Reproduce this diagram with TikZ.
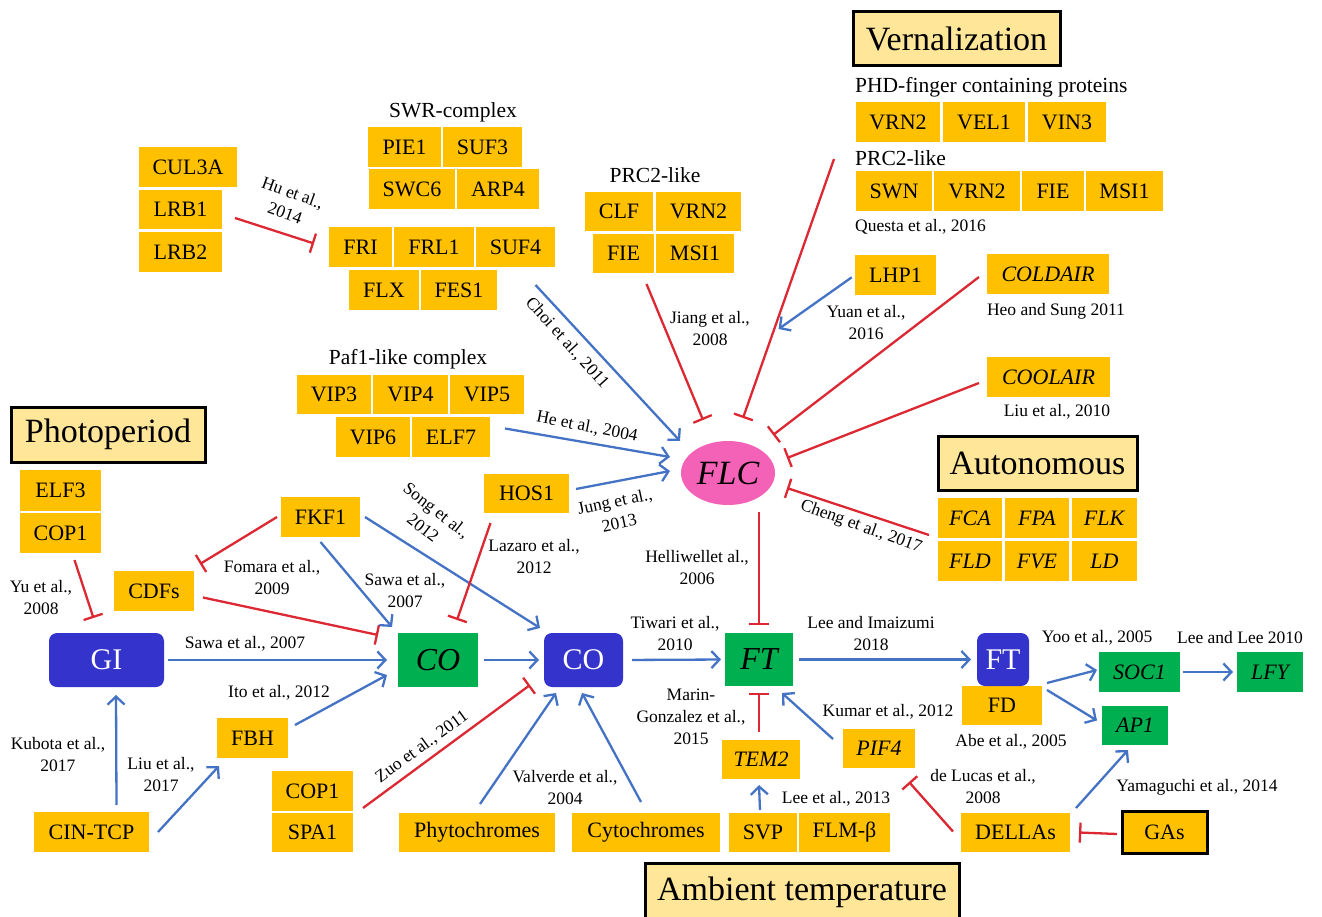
\documentclass[tikz,border=0pt]{standalone}
\usepackage{fontspec}
\setmainfont{Liberation Serif}
\usetikzlibrary{arrows.meta,calc,shapes.geometric}
\definecolor{org}{HTML}{FFC000}
\definecolor{grn}{HTML}{00B050}
\definecolor{dblu}{HTML}{3434CC}
\definecolor{ablu}{HTML}{4472C4}
\definecolor{ired}{HTML}{DC2832}
\definecolor{pnk}{HTML}{F462B8}
\definecolor{ttl}{HTML}{FFE699}
\tikzset{
 box/.style={inner sep=0pt, outer sep=0pt, text=black, font=\fontsize{22}{24}\selectfont},
 ob/.style={box, fill=org},
 gb/.style={box, fill=grn, font=\fontsize{22}{24}\selectfont\itshape},
 gbig/.style={box, fill=grn, font=\fontsize{32}{34}\selectfont\itshape},
 bb/.style={box, fill=dblu, rounded corners=8pt, text=white, font=\fontsize{30}{32}\selectfont},
 tb/.style={box, fill=ttl, draw=black, line width=3pt, font=\fontsize{34}{36}\selectfont},
 gab/.style={box, fill=org, draw=black, line width=3pt},
 lab/.style={inner sep=0pt, align=center, font=\fontsize{17.5}{22}\selectfont},
 grp/.style={inner sep=0pt, font=\fontsize{21.5}{24}\selectfont},
 act/.style={draw=ablu, line width=2.3pt, -{Straight Barb[length=8pt,width=17pt]}},
 inh/.style={draw=ired, line width=2.3pt, -{Bar[width=20pt]}},
}
\newcommand\BX[7][ob]{\node[#1, minimum width={#5-#3}, minimum height={#6-#4}] (#2) at ({(#3+#5)/2},{(#4+#6)/2}) {#7};}
\begin{document}
\begin{tikzpicture}[x=1pt,y=-1pt]
\useasboundingbox[fill=white] (0,0) rectangle (1322,917);

% ---------- top-left groups
\BX{CUL3A}{139}{147}{237}{187}{CUL3A}
\BX{LRB1}{139}{190}{222}{229}{LRB1}
\BX{LRB2}{139}{232}{222}{272}{LRB2}
\node[grp] (swrt) at (453,112) {SWR-complex};
\BX{PIE1}{368}{127}{441}{167}{PIE1}
\BX{SUF3}{443}{127}{522}{167}{SUF3}
\BX{SWC6}{369}{169}{455}{209}{SWC6}
\BX{ARP4}{457}{169}{539}{209}{ARP4}
\BX{FRI}{329}{227}{392}{267}{FRI}
\BX{FRL1}{394}{227}{474}{267}{FRL1}
\BX{SUF4}{476}{227}{555}{267}{SUF4}
\BX{FLX}{349}{270}{419}{310}{FLX}
\BX{FES1}{421}{270}{497}{310}{FES1}
\node[grp] (prct) at (655,175) {PRC2-like};
\BX{CLF}{585}{192}{653}{231}{CLF}
\BX{VRN2a}{656}{192}{741}{231}{VRN2}
\BX{FIEa}{593}{234}{654}{273}{FIE}
\BX{MSI1a}{656}{234}{734}{273}{MSI1}

% ---------- vernalization
\BX[tb]{vern}{853}{12}{1060}{66}{Vernalization}
\node[grp, anchor=west] (phdt) at (855,87) {PHD-finger containing proteins};
\BX{VRN2b}{856}{102}{940}{142}{VRN2}
\BX{VEL1}{943}{102}{1025}{142}{VEL1}
\BX{VIN3}{1028}{102}{1106}{142}{VIN3}
\node[grp, anchor=west] (prc2t) at (855,158) {PRC2-like};
\BX{SWN}{856}{171}{932}{211}{SWN}
\BX{VRN2c}{934}{171}{1020}{211}{VRN2}
\BX{FIEc}{1022}{171}{1084}{211}{FIE}
\BX{MSI1c}{1086}{171}{1163}{211}{MSI1}
\node[lab, anchor=west] (questa) at (855,227) {Questa et al., 2016};
\BX{LHP1}{855}{255}{936}{295}{LHP1}
\BX{COLDAIR}{987}{254}{1109}{294}{\textit{COLDAIR}}
\BX{COOLAIR}{987}{357}{1110}{397}{\textit{COOLAIR}}
\node[lab] (heo) at (1056,311) {Heo and Sung 2011};
\node[lab] (liu10) at (1057,412) {Liu et al., 2010};

% ---------- autonomous
\BX[tb]{auto}{938}{436}{1137}{490}{Autonomous}
\BX{FCA}{938}{498}{1002}{538}{\textit{FCA}}
\BX{FPA}{1005}{498}{1069}{538}{\textit{FPA}}
\BX{FLK}{1072}{498}{1137}{538}{\textit{FLK}}
\BX{FLD}{938}{541}{1002}{581}{\textit{FLD}}
\BX{FVE}{1005}{541}{1069}{581}{\textit{FVE}}
\BX{LD}{1072}{541}{1137}{581}{\textit{LD}}

% ---------- Paf1
\node[grp] (paft) at (408,359) {Paf1-like complex};
\BX{VIP3}{297}{375}{371}{414}{VIP3}
\BX{VIP4}{373}{375}{448}{414}{VIP4}
\BX{VIP5}{450}{375}{524}{414}{VIP5}
\BX{VIP6}{336}{417}{410}{457}{VIP6}
\BX{ELF7}{412}{417}{490}{457}{ELF7}
\BX{HOS1}{484}{474}{569}{513}{HOS1}

% ---------- FLC
\node[ellipse, fill=pnk, minimum width=94, minimum height=64, inner sep=0pt,
      font=\fontsize{34}{36}\selectfont\itshape] (FLC) at (728,473) {FLC};

% ---------- photoperiod
\BX[tb]{photo}{11}{407}{205}{462}{Photoperiod}
\BX{ELF3}{20}{470}{101}{511}{ELF3}
\BX{COP1a}{20}{513}{101}{553}{COP1}
\BX[bb]{GI}{49}{633}{164}{687}{GI}
\BX{CDFs}{114}{571}{194}{611}{CDFs}
\BX{FKF1}{281}{497}{360}{537}{FKF1}
\BX[gbig]{COg}{398}{633}{478}{687}{CO}
\BX[bb]{COb}{544}{633}{623}{687}{CO}
\BX[gbig]{FTg}{725}{633}{793}{686}{FT}
\BX{FD}{962}{686}{1042}{725}{FD}
\BX[bb]{FTb}{977}{633}{1029}{686}{FT}
\BX[gb]{SOC1}{1099}{652}{1180}{692}{SOC1}
\BX[gb]{LFY}{1237}{652}{1303}{692}{LFY}
\BX[gb]{AP1}{1102}{706}{1168}{745}{AP1}

% ---------- bottom
\BX{CIN}{34}{812}{149}{852}{CIN-TCP}
\BX{FBH}{217}{718}{288}{758}{FBH}
\BX{COP1b}{272}{771}{353}{811}{COP1}
\BX{SPA1}{272}{813}{353}{852}{SPA1}
\BX{PHY}{399}{813}{555}{852}{Phytochromes}
\BX{CRY}{572}{813}{720}{852}{Cytochromes}
\BX{TEM2}{722}{740}{800}{779}{\textit{TEM2}}
\BX{PIF4}{843}{729}{915}{768}{\textit{PIF4}}
\BX{SVP}{729}{813}{797}{852}{SVP}
\BX{FLM}{799}{813}{890}{852}{FLM-β}
\BX{DELLA}{961}{813}{1070}{852}{DELLAs}
\BX[gab]{GAs}{1122}{811}{1207}{853}{GAs}
\BX[tb]{ambient}{645}{863}{959}{921}{Ambient temperature}

% ---------- connectors to FLC
\draw[inh] ($(LRB1.south east)+(13,-11)$) -- ($(FRI.west)+(-15,-3.5)$);
\draw[act] ($(SUF4.south)+(20,18)$) -- ($(FLC)+(-48,-32)$);
\draw[inh] ($(FIEa.south)+(23,11)$) -- ($(FLC)+(-25,-53)$);
\coordinate (vs) at ($(SWN.west)+(-22,-32)$);
\coordinate (ve) at ($(FLC)+(15,-55)$);
\draw[inh] (vs) -- (ve);
\draw[act, shorten <=4pt, shorten >=7pt] (LHP1.west) -- ($(vs)!0.672!(ve)$);
\draw[inh] ($(COLDAIR.west)+(-8,3)$) -- ($(FLC)+(45,-38)$);
\draw[inh] ($(COOLAIR.west)+(-8,6)$) -- ($(FLC)+(59,-15)$);
\draw[inh] ($(FCA.west)+(-9,17)$) -- ($(FLC)+(59,15)$);
\draw[act] ($(ELF7.east)+(15,-8.5)$) -- ($(FLC)+(-58,-16)$);
\draw[act] ($(HOS1.east)+(7,-4.5)$) -- ($(FLC)+(-58,-2)$);
\draw[inh, shorten >=8pt] ($(FTg.north|-FLC.south)+(0,7)$) -- (FTg.north);

% ---------- photoperiod connectors
\draw[inh] ($(COP1a.south)+(14,7)$) -- ($(GI.north)+(-13,-15)$);
\draw[inh] ($(FKF1.west)+(-4,0)$) -- ($(CDFs.north east)+(6,-7)$);
\draw[inh] ($(CDFs.east)+(9,6.5)$) -- ($(COg.north west)+(-20,2)$);
\draw[act] ($(FKF1.south)+(0,5)$) -- ($(COg.north west)+(-6,-6)$);
\draw[act] ($(FKF1.east)+(5,0)$) -- ($(COb.north west)+(-4,-5)$);
\draw[inh] ($(HOS1.south)+(-36,10)$) -- ($(COg.north)+(19,-13)$);
\draw[act, shorten <=4pt, shorten >=11pt] (GI.east) -- (COg.west);
\draw[act, shorten <=6pt, shorten >=5pt] (COg.east) -- (COb.west);
\draw[act, shorten <=9pt, shorten >=4pt] (COb.east) -- (FTg.west);
\draw[act, shorten <=6pt, shorten >=6pt] (FTg.east) -- (FTb.west);
\draw[act] ($(FD.north east)+(5,-3)$) -- ($(SOC1.west)+(-2,-2)$);
\draw[act] ($(FD.north east)+(5,4)$) -- ($(AP1.west)+(-5,-5)$);
\draw[act, shorten <=3pt, shorten >=4pt] (SOC1.east) -- (LFY.west);

% ---------- bottom connectors
\draw[act] ($(CIN.north)+(25,-7)$) -- ($(GI.south)+(9.5,8)$);
\draw[act] ($(CIN.east)+(9,0)$) -- ($(FBH.south west)+(2,8)$);
\draw[act] ($(FBH.north east)+(7,7)$) -- ($(COg.west)+(-11,15)$);
\draw[inh] ($(COP1b.south east)+(10,-3)$) -- ($(COb.south west)+(-14,-2)$);
\draw[act] ($(PHY.north)+(3,-9)$) -- ($(COb.south)+(-27.5,6)$);
\draw[act] ($(CRY.north)+(-5,-11)$) -- ($(COb.south)+(-1.5,6)$);
\draw[act] ($(SVP.north)+(-3,-3)$) -- ($(TEM2.south)+(-2,6)$);
\draw[inh, shorten >=7pt] ($(FTg.south|-TEM2.north)+(0,-8)$) -- (FTg.south);
\draw[act] ($(PIF4.north west)+(-10,10)$) -- ($(FTg.south east)+(-11,7)$);
\draw[inh] ($(DELLA.west)+(-8,-1)$) -- ($(PIF4.south east)+(-6,14)$);
\draw[inh] ($(GAs.west)+(-5,2)$) -- ($(DELLA.east)+(9,0)$);
\draw[act] ($(DELLA.north east)+(6,-5)$) -- ($(AP1.south)+(-7,5)$);

% ---------- labels
\node[lab, rotate=-20] (l1) at (289,203) {Hu et al.,\\2014};
\node[lab, rotate=-48] (l2) at (567,343) {Choi et al., 2011};
\node[lab] (l3) at (710,329) {Jiang et al.,\\2008};
\node[lab] (l4) at (866,323) {Yuan et al.,\\2016};
\node[lab, rotate=-20] (l5) at (861,527) {Cheng et al., 2017};
\node[lab, rotate=-11] (l6) at (587,427) {He et al., 2004};
\node[lab, rotate=12] (l7) at (617,512) {Jung et al.,\\2013};
\node[lab] (l8) at (697,568) {Helliwellet al.,\\2006};
\node[lab, rotate=-38] (l9) at (430,519) {Song et al.,\\2012};
\node[lab] (l10) at (534,557) {Lazaro et al.,\\2012};
\node[lab] (l11) at (405,591) {Sawa et al.,\\2007};
\node[lab] (l12) at (272,578) {Fomara et al.,\\2009};
\node[lab] (l13) at (41,598) {Yu et al.,\\2008};
\node[lab] (l14) at (245,644) {Sawa et al., 2007};
\node[lab] (l15) at (279,693) {Ito et al., 2012};
\node[lab] (l16) at (58,755) {Kubota et al.,\\2017};
\node[lab] (l17) at (161,775) {Liu et al.,\\2017};
\node[lab, rotate=36] (l18) at (422,747) {Zuo et al., 2011};
\node[lab] (l19) at (565,788) {Valverde et al.,\\2004};
\node[lab] (l20) at (675,634) {Tiwari et al.,\\2010};
\node[lab] (l21) at (871,634) {Lee and Imaizumi\\2018};
\node[lab] (l22) at (691,717) {Marin-\\Gonzalez et al.,\\2015};
\node[lab] (l23) at (888,712) {Kumar et al., 2012};
\node[lab] (l24) at (836,799) {Lee et al., 2013};
\node[lab] (l25) at (983,787) {de Lucas et al.,\\2008};
\node[lab] (l26) at (1197,787) {Yamaguchi et al., 2014};
\node[lab] (l27) at (1097,638) {Yoo et al., 2005};
\node[lab] (l28) at (1240,638) {Lee and Lee 2010};
\node[lab] (l29) at (1011,742) {Abe et al., 2005};
\end{tikzpicture}
\end{document}
